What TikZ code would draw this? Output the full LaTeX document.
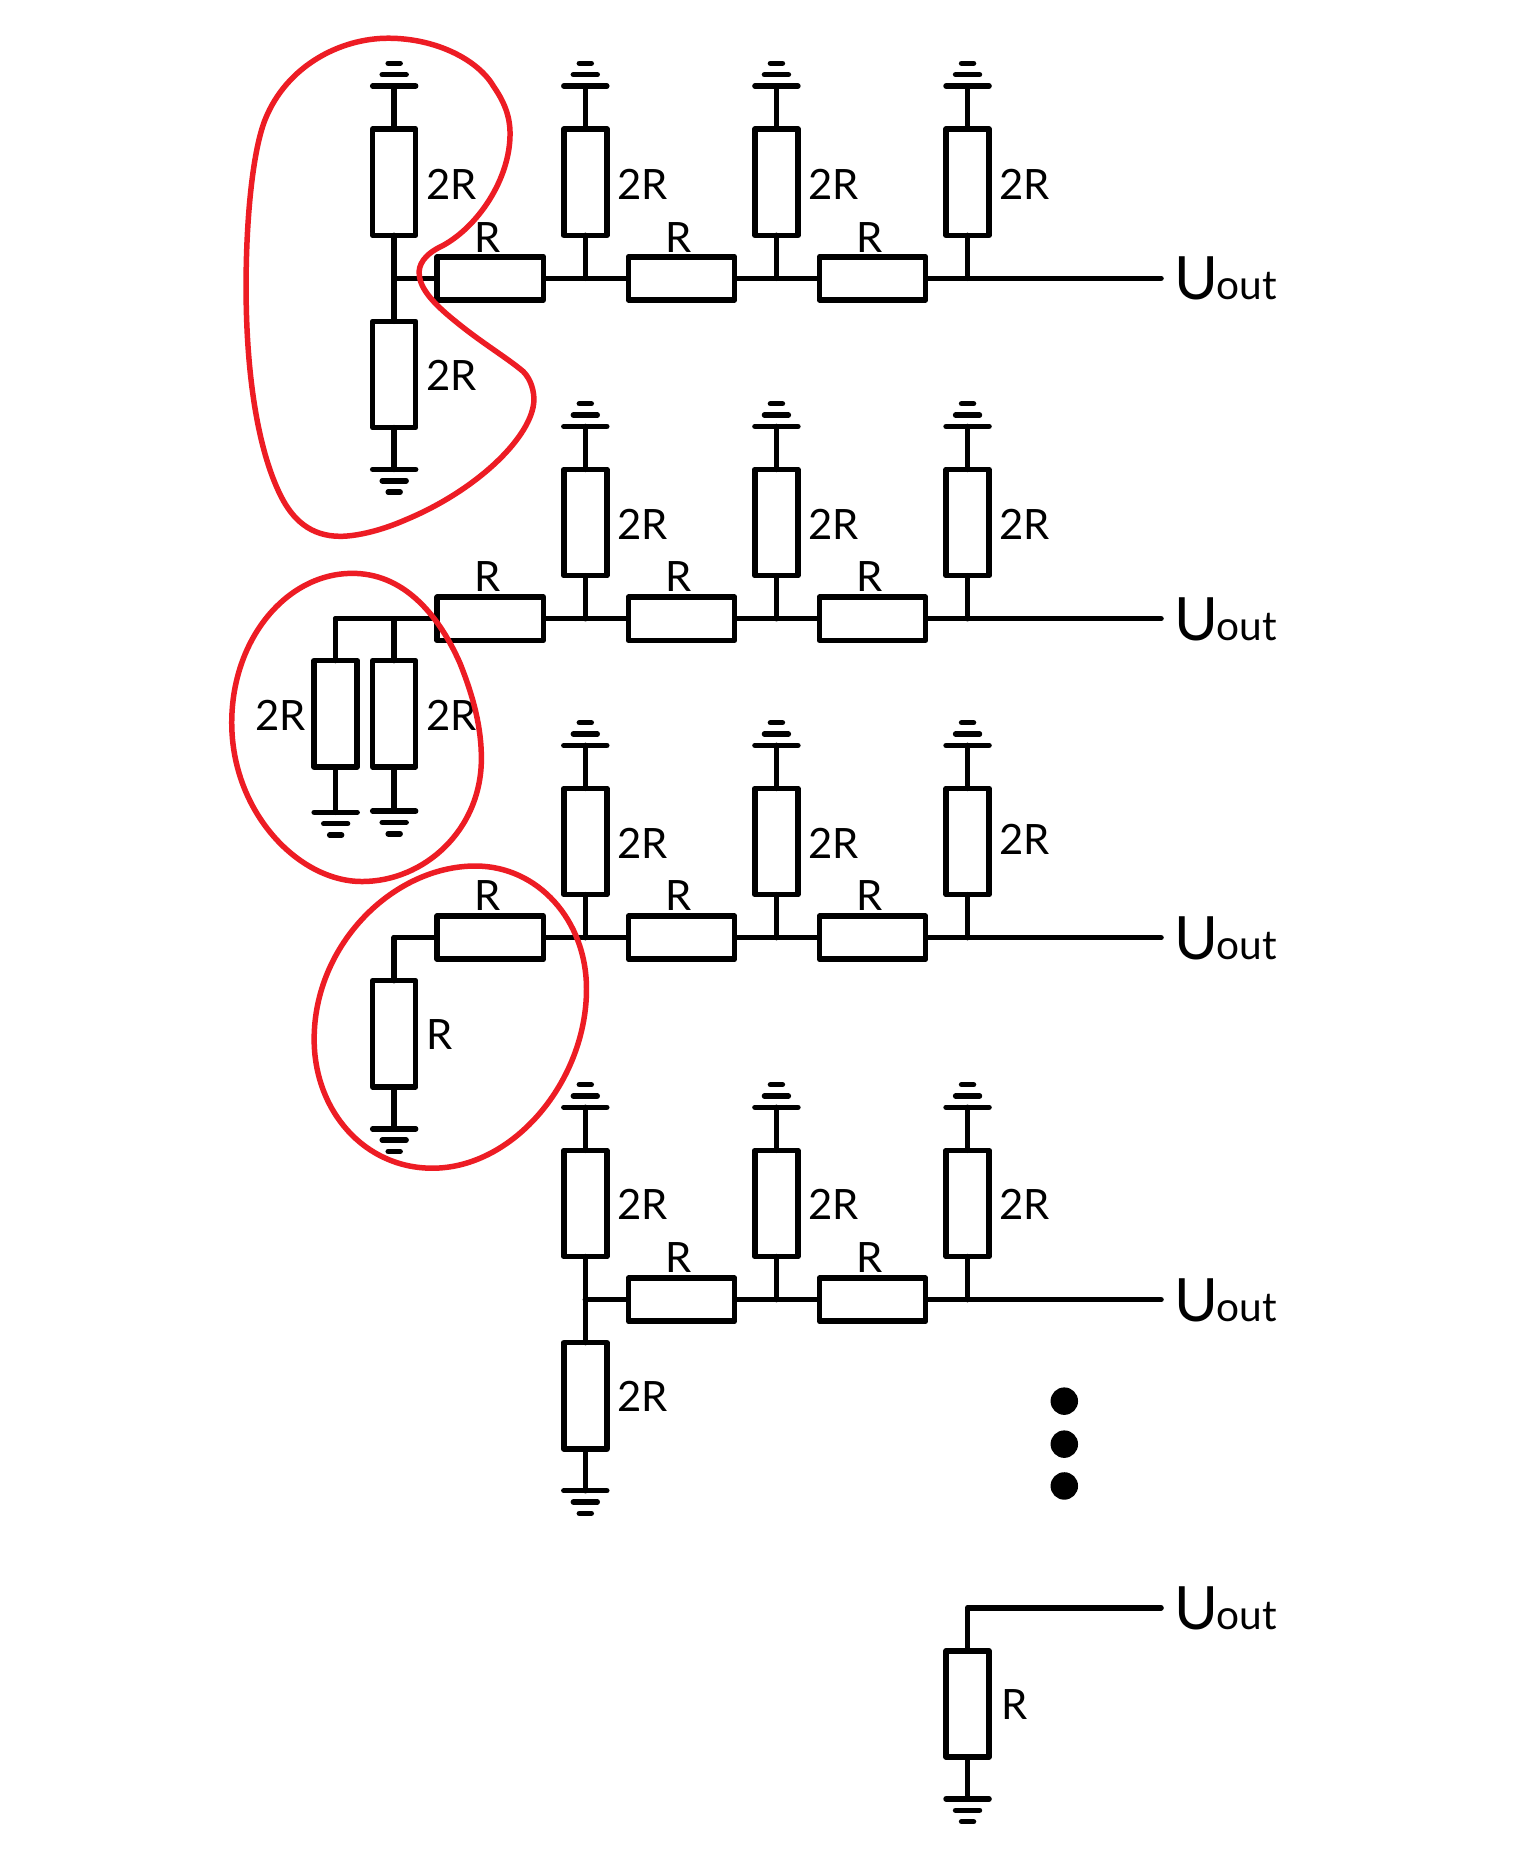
\documentclass[tikz,border=0pt]{standalone}
\usepackage{fontspec}
\setmainfont{Lato}
\newcommand{\sizeL}{\fontsize{35}{40}\selectfont}
\newcommand{\sizeU}{\fontsize{50}{56}\selectfont}
\newcommand{\sizeO}{\fontsize{34}{40}\selectfont}
\definecolor{loopred}{HTML}{ED1C24}
\tikzset{
  wire/.style={line width=4.6pt,line cap=round,line join=round,black},
  vres/.style={draw,wire,fill=white,rectangle,minimum width=36pt,minimum height=89pt,inner sep=0pt,outer sep=0pt},
  hres/.style={draw,wire,fill=white,rectangle,minimum width=89pt,minimum height=36pt,inner sep=0pt,outer sep=0pt},
  lbl/.style={inner sep=0pt,outer sep=0pt,font=\sizeL},
  outlbl/.style={anchor=base west,inner sep=0pt,outer sep=0pt},
  loopline/.style={line width=4.6pt,draw=loopred,line join=round},
  dotmark/.style={circle,fill=black,minimum size=23pt,inner sep=0pt,outer sep=0pt}
}
% ground symbol: #1 name, #2 x, #3 y of long bar, #4 direction (+1 bars go down, -1 bars go up)
\newcommand{\gnd}[4]{%
  \coordinate (#1) at (#2,#3);
  \draw[wire] (#2-18,#3) -- (#2+18,#3);
  \draw[wire] (#2-10,#3+#4*9.5) -- (#2+10,#3+#4*9.5);
  \draw[wire] (#2-5,#3+#4*19) -- (#2+5,#3+#4*19);
}
\newcommand{\upres}[3]{%
  \gnd{g#1}{#2}{#3-36}{-1}
  \node[vres] (r#1) at (#2,#3+44.5) {};
  \draw[wire] (g#1) -- (r#1.north);
}
\newcommand{\dnres}[4][124]{%
  \gnd{g#2}{#3}{#4+#1}{1}
  \node[vres] (r#2) at (#3,#4+44.5) {};
  \draw[wire] (r#2.south) -- (g#2);
}
\newcommand{\uout}[2]{%
  \node[outlbl] (#1) at (983,#2+18) {\sizeU U\kern-1pt\sizeO out};
}
\begin{document}
\begin{tikzpicture}[x=1pt,y=-1pt]
\useasboundingbox (0,0) rectangle (1282.5,1567.2);
\fill[white] (0,0) rectangle (1282.5,1567.2);

% ---- row 1
\coordinate (ja) at (330,233);
\coordinate (jb) at (490,233);
\coordinate (jc) at (650,233);
\coordinate (jd) at (810,233);
\coordinate (ea) at (972,233);
\draw[wire] (ja) -- (ea);
\upres{aa}{330}{108}
\upres{ab}{490}{108}
\upres{ac}{650}{108}
\upres{ad}{810}{108}
\dnres{ae}{330}{269}
\draw[wire] (raa.south) -- (rae.north);
\draw[wire] (rab.south) -- (jb);
\draw[wire] (rac.south) -- (jc);
\draw[wire] (rad.south) -- (jd);
\node[hres] (ha) at (410.5,233) {};
\node[hres] (hb) at (570.5,233) {};
\node[hres] (hc) at (730.5,233) {};
\node[lbl] (la1) at (378,154) {2R};
\node[lbl] (la2) at (538,154) {2R};
\node[lbl] (la3) at (698,154) {2R};
\node[lbl] (la4) at (858,154) {2R};
\node[lbl] (la5) at (378,314) {2R};
\node[lbl] (la6) at (408,199) {R};
\node[lbl] (la7) at (568,199) {R};
\node[lbl] (la8) at (728,199) {R};
\uout{ua}{233}

% ---- row 2
\coordinate (kz) at (281,518);
\coordinate (ka) at (330,518);
\coordinate (kb) at (490,518);
\coordinate (kc) at (650,518);
\coordinate (kd) at (810,518);
\coordinate (eb) at (972,518);
\draw[wire] (kz) -- (eb);
\upres{bb}{490}{393}
\upres{bc}{650}{393}
\upres{bd}{810}{393}
\dnres[127]{by}{281}{553}
\dnres[126]{bz}{330}{553}
\draw[wire] (kz) -- (rby.north);
\draw[wire] (ka) -- (rbz.north);
\draw[wire] (rbb.south) -- (kb);
\draw[wire] (rbc.south) -- (kc);
\draw[wire] (rbd.south) -- (kd);
\node[hres] (ia) at (410.5,518) {};
\node[hres] (ib) at (570.5,518) {};
\node[hres] (ic) at (730.5,518) {};
\node[lbl] (lb1) at (538,439) {2R};
\node[lbl] (lb2) at (698,439) {2R};
\node[lbl] (lb3) at (858,439) {2R};
\node[lbl] (lb4) at (235,599) {2R};
\node[lbl] (lb5) at (378,599) {2R};
\node[lbl] (lb6) at (408,483) {R};
\node[lbl] (lb7) at (568,483) {R};
\node[lbl] (lb8) at (728,483) {R};
\uout{ub}{518}

% ---- row 3
\coordinate (ma) at (330,785);
\coordinate (mb) at (490,785);
\coordinate (mc) at (650,785);
\coordinate (md) at (810,785);
\coordinate (ec) at (972,785);
\draw[wire] (ma) -- (ec);
\upres{cb}{490}{660}
\upres{cc}{650}{660}
\upres{cd}{810}{660}
\dnres{cz}{330}{821}
\draw[wire] (ma) -- (rcz.north);
\draw[wire] (rcb.south) -- (mb);
\draw[wire] (rcc.south) -- (mc);
\draw[wire] (rcd.south) -- (md);
\node[hres] (ja1) at (410.5,785) {};
\node[hres] (jb1) at (570.5,785) {};
\node[hres] (jc1) at (730.5,785) {};
\node[lbl] (lc1) at (538,706) {2R};
\node[lbl] (lc2) at (698,706) {2R};
\node[lbl] (lc3) at (858,703) {2R};
\node[lbl] (lc4) at (368,866) {R};
\node[lbl] (lc5) at (408,750) {R};
\node[lbl] (lc6) at (568,750) {R};
\node[lbl] (lc7) at (728,750) {R};
\uout{uc}{785}

% ---- row 4
\coordinate (nb) at (490,1088);
\coordinate (nc) at (650,1088);
\coordinate (nd) at (810,1088);
\coordinate (ed) at (972,1088);
\draw[wire] (nb) -- (ed);
\upres{db}{490}{963}
\upres{dc}{650}{963}
\upres{dd}{810}{963}
\dnres{dz}{490}{1124}
\draw[wire] (rdb.south) -- (rdz.north);
\draw[wire] (rdc.south) -- (nc);
\draw[wire] (rdd.south) -- (nd);
\node[hres] (kb1) at (570.5,1088) {};
\node[hres] (kc1) at (730.5,1088) {};
\node[lbl] (ld1) at (538,1008) {2R};
\node[lbl] (ld2) at (698,1008) {2R};
\node[lbl] (ld3) at (858,1008) {2R};
\node[lbl] (ld4) at (538,1169) {2R};
\node[lbl] (ld5) at (568,1053) {R};
\node[lbl] (ld6) at (728,1053) {R};
\uout{ud}{1088}

% ---- dots
\node[dotmark] (d1) at (891,1173) {};
\node[dotmark] (d2) at (891,1209) {};
\node[dotmark] (d3) at (891,1244) {};

% ---- last
\coordinate (pc) at (810,1346);
\coordinate (ee) at (972,1346);
\dnres{ez}{810}{1382}
\draw[wire] (ee) -- (pc) -- (rez.north);
\node[lbl] (le1) at (849,1427) {R};
\uout{ue}{1346}

% ---- red loops
\draw[loopline] (325,32)
  .. controls (365,32) and (400,50) .. (413,72)
  .. controls (422,85) and (427,97) .. (427,112)
  .. controls (427,150) and (400,190) .. (370,206)
  .. controls (355,213) and (350,222) .. (351,230)
  .. controls (352,245) and (370,260) .. (385,272)
  .. controls (405,288) and (425,300) .. (438,311)
  .. controls (445,318) and (447,328) .. (447,335)
  .. controls (446,365) and (400,410) .. (340,435)
  .. controls (315,446) and (295,449) .. (285,449)
  .. controls (260,449) and (245,435) .. (235,415)
  .. controls (215,375) and (206,310) .. (206,240)
  .. controls (206,180) and (212,125) .. (222,100)
  .. controls (240,55) and (285,32) .. (325,32) -- cycle;
\draw[loopline] (295,480)
  .. controls (335,480) and (365,510) .. (385,555)
  .. controls (397,585) and (403,610) .. (403,635)
  .. controls (403,695) and (355,738) .. (303,738)
  .. controls (250,738) and (194,680) .. (194,605)
  .. controls (194,535) and (240,480) .. (295,480) -- cycle;
\draw[loopline] (398,725)
  .. controls (450,725) and (491,770) .. (491,828)
  .. controls (491,905) and (430,978) .. (362,978)
  .. controls (305,978) and (263,930) .. (263,870)
  .. controls (263,790) and (330,725) .. (398,725) -- cycle;
\end{tikzpicture}
\end{document}
